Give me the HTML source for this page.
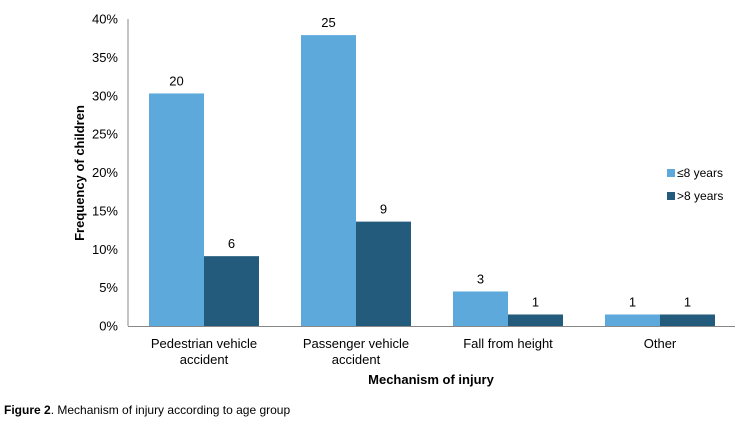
<!DOCTYPE html>
<html><head><meta charset="utf-8"><style>
body{margin:0;background:#fff;}
svg{display:block;font-family:"Liberation Sans",Arial,sans-serif;}
</style></head><body>
<svg id="chart" width="746" height="423">
<g id="axes"></g><g id="bars"></g>
<line x1="128" y1="19" x2="128" y2="326" stroke="#888" stroke-width="1"/>
<line x1="128" y1="326.5" x2="735" y2="326.5" stroke="#888" stroke-width="1"/>
<text transform="translate(84,173) rotate(-90)" text-anchor="middle" font-size="13" font-weight="bold">Frequency of children</text>
<text x="431" y="384" text-anchor="middle" font-size="13" font-weight="bold">Mechanism of injury</text>
<g>
<rect x="667" y="169" width="8" height="8" fill="#5ea9dc"/>
<text x="677" y="177" font-size="12">≤8 years</text>
<rect x="667" y="192" width="8" height="8" fill="#235b7d"/>
<text x="677" y="200" font-size="12">&gt;8 years</text>
</g>
<text x="4" y="414" font-size="12"><tspan font-weight="bold">Figure 2</tspan>.  Mechanism of injury according to age group</text>
</svg>
<script>
const categories=[["Pedestrian vehicle","accident"],["Passenger vehicle","accident"],["Fall from height"],["Other"]];
const youngCounts=[20,25,3,1];
const oldCounts=[6,9,1,1];
const youngPct=[30.3,37.9,4.5,1.5];
const oldPct=[9.1,13.6,1.5,1.5];
const yTicks=[0,5,10,15,20,25,30,35,40];
const NS="http://www.w3.org/2000/svg";
const x0=128,band=152,y0=326,yTop=19,yMax=40;
function ys(v){return y0-(v/yMax)*(y0-yTop);}
function xc(i){return x0+band*(i+0.5);}
function mk(t,a,p,txt){const e=document.createElementNS(NS,t);for(const k in a)e.setAttribute(k,a[k]);if(txt!==undefined)e.textContent=txt;p.appendChild(e);return e;}
const axes=document.getElementById('axes'),bars=document.getElementById('bars');
yTicks.forEach(t=>{
  const e=mk('text',{x:118,y:ys(t)+4.5,'text-anchor':'end','font-size':13},axes,t+'%');
  
  
});
categories.forEach((c,i)=>{
  c.forEach((line,j)=>{
    const e=mk('text',{x:xc(i),y:348+j*16,'text-anchor':'middle','font-size':13},axes,line);
    
    
  });
  const w=55;
  [[youngPct,youngCounts,'#5ea9dc',-w],[oldPct,oldCounts,'#235b7d',0]].forEach(([pv,cv,col,off],s)=>{
    const y=ys(pv[i]);
    const r=mk('rect',{x:xc(i)+off,y:y,width:w,height:y0-y,fill:col},bars);
    
    
    const l=mk('text',{x:xc(i)+off+w/2,y:y-8,'text-anchor':'middle','font-size':13},bars,cv[i]);
    
    
  });
});
</script>
</body></html>
